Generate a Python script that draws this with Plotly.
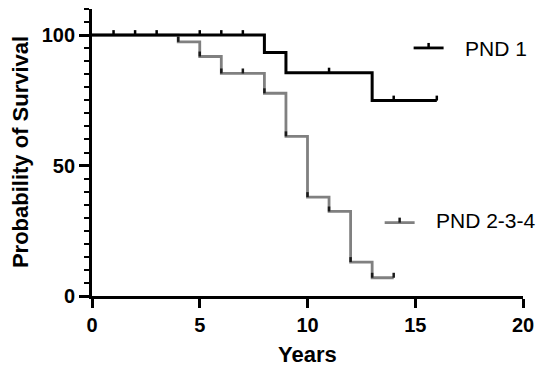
import plotly.graph_objects as go

# ---- data ----
pnd1_years = [0, 8, 9, 13, 16]
pnd1_surv = [100, 93.3, 85.6, 74.9, 74.9]
pnd1_cens_years = [1, 2, 3, 5, 6, 7, 11, 14, 16]
pnd1_cens_surv = [100, 100, 100, 100, 100, 100, 85.6, 74.9, 74.9]

pnd234_years = [0, 4, 5, 6, 8, 9, 10, 11, 12, 13, 14]
pnd234_surv = [100, 97.4, 91.8, 85.3, 77.7, 61.2, 37.9, 32.4, 13.0, 7.0, 7.0]
pnd234_cens_years = [7, 14]
pnd234_cens_surv = [85.3, 7.0]

x_ticks = [0, 5, 10, 15, 20]
y_ticks = [0, 50, 100]
series_names = ["PND 1", "PND 2-3-4"]

BLACK = "#000000"
GRAY = "#808080"
DARK = "#1a1a1a"
FONT = "Liberation Sans, Arial, sans-serif"
TICK_H = 1.9

fig = go.Figure()

# gray series
fig.add_trace(go.Scatter(x=pnd234_years, y=pnd234_surv, mode="lines",
                         line=dict(color=GRAY, width=2.8, shape="hv"),
                         showlegend=False, hoverinfo="skip"))
# gray drop marks + censor ticks
drop_x = pnd234_years[1:-1] + pnd234_cens_years
drop_y = pnd234_surv[1:-1] + pnd234_cens_surv
fig.add_trace(go.Scatter(x=drop_x, y=drop_y, mode="markers",
                         marker=dict(size=1, color="rgba(0,0,0,0)"),
                         error_y=dict(type="data", symmetric=False,
                                      array=[TICK_H] * len(drop_x),
                                      arrayminus=[0] * len(drop_x),
                                      width=0, thickness=2.5, color=DARK),
                         showlegend=False, hoverinfo="skip"))

# black series
fig.add_trace(go.Scatter(x=pnd1_years, y=pnd1_surv, mode="lines",
                         line=dict(color=BLACK, width=3, shape="hv"),
                         showlegend=False, hoverinfo="skip"))
fig.add_trace(go.Scatter(x=pnd1_cens_years, y=pnd1_cens_surv, mode="markers",
                         marker=dict(size=1, color="rgba(0,0,0,0)"),
                         error_y=dict(type="data", symmetric=False,
                                      array=[TICK_H] * len(pnd1_cens_years),
                                      arrayminus=[0] * len(pnd1_cens_years),
                                      width=0, thickness=2.5, color=BLACK),
                         showlegend=False, hoverinfo="skip"))

# ---- layout geometry (page pixels; the page body adds an 8px margin) ----
OFF = 8
PAGE_W, PAGE_H = 550, 372
W, H = PAGE_W - OFF, PAGE_H - OFF
PLOT_L, PLOT_R, PLOT_T, PLOT_B = 92, 523.5, 8.5, 296   # page pixels
L, T = PLOT_L - OFF, PLOT_T - OFF
R, B = W - (PLOT_R - OFF), H - (PLOT_B - OFF)
pw, ph = PLOT_R - PLOT_L, PLOT_B - PLOT_T


def px_x(p):
    return (p - PLOT_L) / pw


def px_y(p):
    return (PLOT_B - p) / ph


shapes = []
annotations = []
# legend entries
legend_items = [
    (series_names[0], BLACK, BLACK, 414, 444, 47.5, 463, 48),
    (series_names[1], GRAY, DARK, 385, 415, 222.5, 434, 220),
]
for name, lc, tc, x0, x1, yy, tx, ty in legend_items:
    shapes.append(dict(type="line", xref="paper", yref="paper",
                       x0=px_x(x0), x1=px_x(x1), y0=px_y(yy), y1=px_y(yy),
                       line=dict(color=lc, width=2.8)))
    xm = (x0 + x1) / 2
    shapes.append(dict(type="line", xref="paper", yref="paper",
                       x0=px_x(xm), x1=px_x(xm), y0=px_y(yy), y1=px_y(yy - 5),
                       line=dict(color=tc, width=2.5)))
    annotations.append(dict(text=name, xref="paper", yref="paper",
                            x=px_x(tx), y=px_y(ty), xanchor="left", yanchor="middle",
                            showarrow=False, font=dict(family=FONT, size=21, color="#000")))

# axis titles
annotations.append(dict(text="<b>Years</b>", xref="paper", yref="paper",
                        x=0.5, y=px_y(355), xanchor="center", yanchor="middle",
                        showarrow=False, font=dict(family=FONT, size=22, color="#000")))
annotations.append(dict(text="<b>Probability of Survival</b>", xref="paper", yref="paper",
                        x=px_x(20.5), y=0.5, xanchor="center", yanchor="middle",
                        textangle=-90, showarrow=False,
                        font=dict(family=FONT, size=22, color="#000")))

fig.update_layout(
    width=W, height=H,
    margin=dict(l=L, r=R, t=T, b=B, pad=0),
    paper_bgcolor="white", plot_bgcolor="white",
    shapes=shapes, annotations=annotations,
    font=dict(family=FONT, color="#000"),
    xaxis=dict(range=[0, 20], tickvals=x_ticks,
               ticktext=[f"<b>{v}</b>" for v in x_ticks],
               ticks="outside", ticklen=9, tickwidth=2.5, tickcolor="#000",
               showline=True, linecolor="#000", linewidth=2.8,
               showgrid=False, zeroline=False,
               tickfont=dict(family=FONT, size=20, color="#000")),
    yaxis=dict(range=[0, 110], tickvals=y_ticks,
               ticktext=[f"<b>{v}</b>" for v in y_ticks],
               ticks="outside", ticklen=10, tickwidth=2.5, tickcolor="#000",
               showline=True, linecolor="#000", linewidth=2.8,
               showgrid=False, zeroline=False,
               minor=dict(dtick=5, tick0=0, ticks="outside", ticklen=5,
                          tickwidth=2.2, tickcolor="#000", showgrid=False),
               tickfont=dict(family=FONT, size=20, color="#000")),
)

fig.write_html("out.html")
